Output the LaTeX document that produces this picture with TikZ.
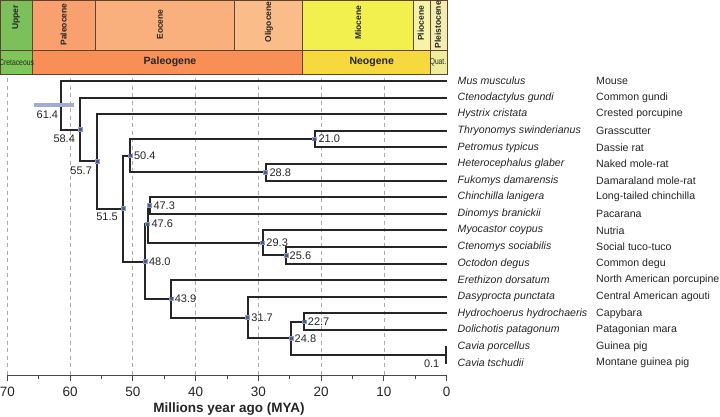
\documentclass[tikz,border=0pt]{standalone}
\usepackage{fontspec}
\setmainfont{Liberation Sans}
\usetikzlibrary{calc}
\definecolor{treec}{HTML}{262626}
\definecolor{gridc}{HTML}{ABABAB}
\definecolor{hpdc}{HTML}{8D9FD0}
\definecolor{rootc}{HTML}{9DACD8}
\definecolor{dotc}{HTML}{4A5A8C}
\definecolor{borderc}{HTML}{5E4232}
\definecolor{cUpper}{HTML}{7BC05A}
\definecolor{cCret}{HTML}{7FC65A}
\definecolor{cPaleoc}{HTML}{F9A06F}
\definecolor{cEoc}{HTML}{F9B07D}
\definecolor{cOlig}{HTML}{FABD8A}
\definecolor{cMio}{HTML}{F2F04E}
\definecolor{cPlio}{HTML}{F7F3A6}
\definecolor{cPleist}{HTML}{F4EDB0}
\definecolor{cPaleog}{HTML}{F78F57}
\definecolor{cNeog}{HTML}{F5D93F}
\definecolor{cQuat}{HTML}{EEEE9A}
\newcommand\fsz[1]{\fontsize{#1}{#1}\selectfont}
\newcommand\tx[1]{446.7-6.277*#1}
\begin{document}
\begin{tikzpicture}[x=1pt,y=-1pt,
  br/.style={draw=treec,line width=2pt},
  gridline/.style={draw=gridc,line width=0.8pt,dash pattern=on 4pt off 3.5pt},
  cell/.style={draw=borderc,line width=0.7pt,anchor=north west,inner sep=0pt,minimum height=#1},
  cell/.default=50pt,
  eptext/.style={inner sep=0pt,text=treec,font=\fsz{8.5}\bfseries},
  pertext/.style={inner sep=0pt,text=treec,font=\fsz{10.5}\bfseries},
  sp/.style={anchor=west,inner sep=0pt,text=treec,font=\fsz{10.6}\itshape},
  cn/.style={anchor=west,inner sep=0pt,text=treec,font=\fsz{10.6}},
  agelab/.style={inner sep=0pt,text=treec,font=\fsz{11}},
  agel/.style={agelab,anchor=north east},
  ager/.style={agelab,anchor=west,xshift=3.5pt},
  hpdbox/.style={fill=hpdc,inner sep=0pt,minimum width=7pt,minimum height=4.4pt},
  dotbox/.style={fill=dotc,inner sep=0pt,minimum width=3pt,minimum height=3pt},
  ticklab/.style={inner sep=0pt,text=treec,font=\fsz{13.5}}]
\useasboundingbox[fill=white] (0,0) rectangle (720,416);

% ---- header: epochs
\node[cell,fill=cUpper,minimum width=32.4pt] (eUpper) at (0,0) {};
\node[cell,fill=cPaleoc,minimum width=62.8pt] (ePaleoc) at (32.4,0) {};
\node[cell,fill=cEoc,minimum width=138.7pt] (eEoc) at (95.2,0) {};
\node[cell,fill=cOlig,minimum width=68.4pt] (eOlig) at (233.9,0) {};
\node[cell,fill=cMio,minimum width=111.1pt] (eMio) at (302.3,0) {};
\node[cell,fill=cPlio,minimum width=17pt] (ePlio) at (413.4,0) {};
\node[cell,fill=cPleist,minimum width=16.3pt] (ePleist) at (430.4,0) {};
% ---- header: periods
\node[cell=24.3pt,fill=cCret,minimum width=32.4pt] (pCret) at (0,50) {};
\node[cell=24.3pt,fill=cPaleog,minimum width=269.9pt] (pPaleog) at (32.4,50) {};
\node[cell=24.3pt,fill=cNeog,minimum width=128.1pt] (pNeog) at (302.3,50) {};
\node[cell=24.3pt,fill=cQuat,minimum width=16.3pt] (pQuat) at (430.4,50) {};
% header texts
\node[eptext] (lUpper) at (16.2,17.5) {\rotatebox{90}{Upper}};
\node[eptext] (lPaleoc) at (63.6,24.5) {\rotatebox{90}{Paleocene}};
\node[eptext] (lEoc) at (160,24.5) {\rotatebox{90}{Eocene}};
\node[eptext] (lOlig) at (269,22) {\rotatebox{90}{Oligocene}};
\node[eptext] (lMio) at (358.2,22.8) {\rotatebox{90}{Miocene}};
\node[eptext] (lPlio) at (420.8,23.2) {\rotatebox{90}{Pliocene}};
\node[eptext] (lPleist) at (437.8,24.7) {\rotatebox{90}{Pleistocene}};
\node[inner sep=0pt,text=treec,font=\fsz{8.5}] (lCret) at (16.6,62.5) {\scalebox{0.8}[1]{Cretaceous}};
\node[pertext] (lPaleog) at (170,62.3) {Paleogene};
\node[pertext] (lNeog) at (371.7,62.3) {Neogene};
\node[inner sep=0pt,text=treec,font=\fsz{8.5}] (lQuat) at (438,62.5) {\scalebox{0.78}[1]{Quat.}};

% ---- grid
\foreach \t in {10,20,...,70}
  \draw[gridline] ({\tx{\t}},78) -- ({\tx{\t}},375.7);

% ---- axis
\coordinate (ax0) at ({\tx{70}},375.7);
\coordinate (ax1) at ({\tx{0}},375.7);
\draw[draw=treec!85,line width=1pt] (ax0) -- (ax1);
\foreach \t in {0,10,...,70}{
  \draw[draw=treec!85,line width=0.9pt] ({\tx{\t}},375.7) -- ++(0,5);
  \node[ticklab] (tl\t) at ({\tx{\t}},391.7) {\t};
}
\foreach \t in {5,15,...,65}
  \draw[draw=treec!85,line width=0.8pt] ({\tx{\t}},375.7) -- ++(0,3);
\node[inner sep=0pt,text=treec,font=\fsz{13.5}\bfseries] (axtitle) at (229,409) {Millions year ago (MYA)};

% ---- tips and labels
\foreach \i/\sname/\cname in {
  0/Mus musculus/Mouse,
  1/Ctenodactylus gundi/Common gundi,
  2/Hystrix cristata/Crested porcupine,
  3/Thryonomys swinderianus/Grasscutter,
  4/Petromus typicus/Dassie rat,
  5/Heterocephalus glaber/Naked mole-rat,
  6/Fukomys damarensis/Damaraland mole-rat,
  7/Chinchilla lanigera/Long-tailed chinchilla,
  8/Dinomys branickii/Pacarana,
  9/Myocastor coypus/Nutria,
  10/Ctenomys sociabilis/Social tuco-tuco,
  11/Octodon degus/Common degu,
  12/Erethizon dorsatum/North American porcupine,
  13/Dasyprocta punctata/Central American agouti,
  14/Hydrochoerus hydrochaeris/Capybara,
  15/Dolichotis patagonum/Patagonian mara,
  16/Cavia porcellus/Guinea pig,
  17/Cavia tschudii/Montane guinea pig}{
  \coordinate (t\i) at (446.7,{81+16.6*\i});
  \node[sp] (s\i) at (457.5,{81+16.6*\i}) {\sname};
  \node[cn] (c\i) at (596,{81+16.6*\i}) {\cname};
}

% ---- internal nodes (time, y)
\coordinate (n614) at ({\tx{61.4}},105.25);
\coordinate (n584) at ({\tx{58.4}},129.5);
\coordinate (n557) at ({\tx{55.7}},161.41);
\coordinate (n515) at ({\tx{51.5}},208.61);
\coordinate (n504) at ({\tx{50.4}},155.7);
\coordinate (n210) at ({\tx{21.0}},139.1);
\coordinate (n288) at ({\tx{28.8}},172.3);
\coordinate (n480) at ({\tx{48.0}},261.53);
\coordinate (n476) at ({\tx{47.6}},224.18);
\coordinate (n473) at ({\tx{47.3}},205.5);
\coordinate (n293) at ({\tx{29.3}},242.85);
\coordinate (n256) at ({\tx{25.6}},255.3);
\coordinate (n439) at ({\tx{43.9}},298.88);
\coordinate (n317) at ({\tx{31.7}},317.55);
\coordinate (n248) at ({\tx{24.8}},338.3);
\coordinate (n227) at ({\tx{22.7}},321.7);
\coordinate (n001) at ({\tx{0.1}},354.9);

% ---- branches
\foreach \p/\a/\b in {n614/t0/n584, n584/t1/n557, n557/t2/n515, n515/n504/n480,
  n504/n210/n288, n210/t3/t4, n288/t5/t6, n480/n476/n439, n476/n473/n293,
  n473/t7/t8, n293/t9/n256, n256/t10/t11, n439/t12/n317, n317/t13/n248,
  n248/n227/n001, n227/t14/t15, n001/t16/t17}{
  \draw[br] (\a) -| (\p) |- (\b);
}

% ---- HPD bars and node marks
\node[hpdbox,fill=rootc,minimum width=40pt,minimum height=3.8pt] (h614) at (54,105.3) {};
\foreach \n in {n584,n557,n515,n504,n480,n476,n473,n293,n256,n439,n317,n248,n227,n210,n288}{
  \node[hpdbox,minimum width=5pt] (h\n) at (\n) {};
  \node[dotbox] (d\n) at (\n) {};
}

% ---- age labels
\node[agel] (a614) at ($(n614)+(-3,5.3)$) {61.4};
\node[agel] (a584) at ($(n584)+(-5,4.8)$) {58.4};
\node[agel] (a557) at ($(n557)+(-5,5)$) {55.7};
\node[agel] (a515) at ($(n515)+(-5.5,4)$) {51.5};
\node[ager] (a504) at (n504) {50.4};
\node[ager] (a210) at (n210) {21.0};
\node[ager] (a288) at (n288) {28.8};
\node[ager] (a473) at (n473) {47.3};
\node[ager] (a476) at (n476) {47.6};
\node[ager] (a480) at (n480) {48.0};
\node[ager] (a293) at (n293) {29.3};
\node[ager] (a256) at (n256) {25.6};
\node[ager] (a439) at (n439) {43.9};
\node[ager] (a317) at (n317) {31.7};
\node[ager] (a227) at (n227) {22.7};
\node[ager] (a248) at (n248) {24.8};
\node[agelab,anchor=east] (a001) at (439.5,363.5) {0.1};
\end{tikzpicture}
\end{document}
